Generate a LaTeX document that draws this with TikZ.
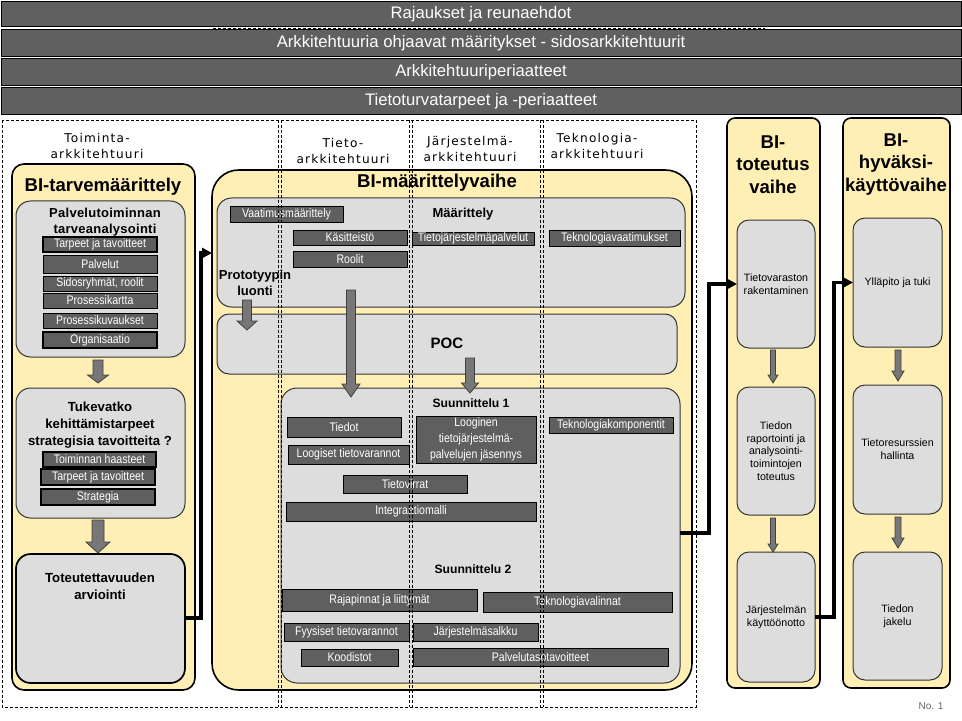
\documentclass[tikz,border=0pt]{standalone}
\usepackage{fontspec}
\setmainfont{Liberation Sans}
\newfontfamily\narrowf{Liberation Sans}[FakeStretch=0.85]
\newfontfamily\verdf{DejaVu Sans}[LetterSpace=10]
\newfontfamily\boldsp{Liberation Sans}[LetterSpace=2]
\usetikzlibrary{arrows.meta,calc}
\definecolor{bangray}{HTML}{606060}
\definecolor{dkgray}{HTML}{5F5F5F}
\definecolor{yel}{HTML}{FFEFB5}
\definecolor{ltgray}{HTML}{DDDDDD}
\definecolor{argray}{HTML}{777777}
\newcommand{\fBan}{\fontsize{12.5}{14}\selectfont}
\newcommand{\fDk}{\narrowf\fontsize{9.3}{12}\selectfont}
\newcommand{\fArch}{\verdf\fontsize{9.1}{12}\selectfont}
\newcommand{\fBig}{\bfseries\fontsize{13.9}{16.9}\selectfont}
\newcommand{\fSub}{\boldsp\bfseries\fontsize{9.75}{12.5}\selectfont}
\newcommand{\fMid}{\bfseries\fontsize{9.75}{12}\selectfont}
\newcommand{\fSm}{\fontsize{8}{9.6}\selectfont}
\newcommand{\mkbox}[7]{\node[#1, minimum width={((#5)-(#3))*0.75pt}, minimum height={((#6)-(#4))*0.75pt}] (#2) at ({((#3)+(#5))/2},{((#4)+(#6))/2}) {#7};}
\newcommand{\fatdn}[6]{\draw[fatst] ({#1-#4/2},#2) -- ({#1+#4/2},#2) -- ({#1+#4/2},{#3-#6}) -- ({#1+#5/2},{#3-#6}) -- (#1,#3) -- ({#1-#5/2},{#3-#6}) -- ({#1-#4/2},{#3-#6}) -- cycle;}
\begin{document}
\begin{tikzpicture}[x=0.75pt,y=-0.75pt,
  banner/.style={draw=black, line width=0.75pt, fill=bangray, text=white, font=\fBan, inner sep=0, outer sep=0},
  dbox/.style={draw=black, line width=0.75pt, fill=dkgray, text=white, font=\fDk, inner sep=0, outer sep=0, align=center},
  dboxb/.style={dbox, line width=1.5pt},
  ybox/.style={draw=black, line width=1.2pt, fill=yel, inner sep=0, outer sep=0, rounded corners=#1},
  gbox/.style={draw=black!80, line width=0.75pt, fill=ltgray, inner sep=0, outer sep=0, rounded corners=#1, align=center, font=\fSm},
  ttl/.style={inner sep=0, align=center},
  dsh/.style={dash pattern=on 2.25pt off 1.5pt, line width=0.7pt},
  conn/.style={line width=2.6pt, -{Triangle[length=7.5pt,width=7.5pt]}},
  fatst/.style={fill=argray, draw=black!75, line width=0.6pt}]
\useasboundingbox (0,0) rectangle (962,720);
\fill[white] (0,0) rectangle (962,720);
% fragment of dashed frame between banners
\draw[dsh, line width=1.2pt] (213,28.5) -- (765,28.5);
% banners
\mkbox{banner}{b1}{1}{2}{961}{27}{Rajaukset ja reunaehdot}
\mkbox{banner}{b2}{1}{30}{961}{57}{Arkkitehtuuria ohjaavat määritykset - sidosarkkitehtuurit}
\mkbox{banner}{b3}{1}{59}{961}{86}{Arkkitehtuuriperiaatteet}
\mkbox{banner}{b4}{1}{88}{961}{115}{Tietoturvatarpeet ja -periaatteet}
% architecture labels
\node[ttl, font=\fArch] (la1) at (97,146) {Toiminta-\\arkkitehtuuri};
\node[ttl, font=\fArch] (la2) at (343,150.5) {Tieto-\\arkkitehtuuri};
\node[ttl, font=\fArch] (la3) at (470,149) {Järjestelmä-\\arkkitehtuuri};
\node[ttl, font=\fArch] (la4) at (597,146) {Teknologia-\\arkkitehtuuri};
% yellow phase boxes
\mkbox{ybox=9pt}{tarve}{12}{164}{195}{690}{}
\mkbox{ybox=20pt}{maar}{212}{170}{692}{690}{}
\mkbox{ybox=6pt}{tot}{727}{118}{820}{688}{}
\mkbox{ybox=6pt}{hyv}{843}{118}{950}{688}{}
\node[ttl, font=\fBig] (tt1) at (103,187) {BI-tarvemäärittely};
\node[ttl, font=\fBig] (tt2) at (437,183) {BI-määrittelyvaihe};
\node[ttl, font=\fBig] (tt3) at (773,164.5) {BI-\\toteutus\\vaihe};
\node[ttl, font=\fBig] (tt4) at (896,164.5) {BI-\\hyväksi-\\käyttövaihe};
% left column
\mkbox{gbox=11pt}{g1}{16}{201}{185}{357}{}
\mkbox{gbox=11pt}{g2}{16}{388}{185}{518}{}
\mkbox{gbox=11pt, line width=1.3pt, draw=black}{g3}{16}{554}{185}{683}{}
\node[ttl, font=\fSub] (g1t) at (105,222) {Palvelutoiminnan\\tarveanalysointi};
\node[ttl, font=\bfseries\fontsize{9.9}{12.8}\selectfont] (g2t) at (100,425) {Tukevatko\\kehittämistarpeet\\strategisia tavoitteita ?};
\node[ttl, font=\bfseries\fontsize{9.9}{12.8}\selectfont] (g3t) at (100,586.5) {Toteutettavuuden\\arviointi};
\mkbox{dboxb}{d1}{43}{237}{157}{252}{Tarpeet ja tavoitteet}
\mkbox{dbox}{d2}{43}{255}{157}{273}{Palvelut}
\mkbox{dbox}{d3}{43}{276}{157}{291}{Sidosryhmät, roolit}
\mkbox{dbox}{d4}{43}{293}{157}{308}{Prosessikartta}
\mkbox{dbox}{d5}{43}{313}{157}{328}{Prosessikuvaukset}
\mkbox{dboxb}{d6}{43}{332}{157}{348}{Organisaatio}
\mkbox{dboxb}{d7}{43}{452}{156}{467}{Toiminnan haasteet}
\mkbox{dboxb}{d8}{41}{469}{155}{485}{Tarpeet ja tavoitteet}
\mkbox{dboxb}{d9}{41}{489}{155}{505}{Strategia}
\fatdn{98}{360}{383}{10}{21}{8}
\fatdn{98}{520}{553}{12}{24}{11}
% BI-maarittelyvaihe
\mkbox{gbox=11pt}{mdef}{217}{198}{685}{307}{}
\mkbox{gbox=9pt}{poc}{217}{314}{677}{374}{}
\mkbox{gbox=12pt}{suun}{281}{388}{680}{683}{}
\node[ttl, font=\fMid] (mdeft) at (463,214) {Määrittely};
\node[ttl, font=\fMid] (proto) at (255,283) {Prototyypin\\luonti};
\node[ttl, font=\bfseries\fontsize{11.3}{13}\selectfont] (poct) at (447,343) {POC};
\node[ttl, font=\bfseries\fontsize{9.1}{11}\selectfont] (s1t) at (471,403) {Suunnittelu 1};
\node[ttl, font=\bfseries\fontsize{9.1}{11}\selectfont] (s2t) at (473,569) {Suunnittelu 2};
\mkbox{dbox}{vaat}{230}{207}{343}{222}{Vaatimusmäärittely}
\mkbox{dbox}{kas}{293}{230}{407}{245}{Käsitteistö}
\mkbox{dbox}{rool}{293}{251}{407}{267}{Roolit}
\mkbox{dbox}{tjp}{412}{232}{534}{245}{Tietojärjestelmäpalvelut}
\mkbox{dbox}{tekv}{549}{230}{680}{246}{Teknologiavaatimukset}
\mkbox{dbox}{tied}{287}{417}{401}{437}{Tiedot}
\mkbox{dbox}{loog}{416}{416}{536}{463}{Looginen\\tietojärjestelmä-\\palvelujen jäsennys}
\mkbox{dbox}{tekk}{549}{417}{673}{433}{Teknologiakomponentit}
\mkbox{dbox}{lotv}{288}{445}{409}{464}{Loogiset tietovarannot}
\mkbox{dbox}{tvir}{343}{475}{467}{493}{Tietovirrat}
\mkbox{dbox}{integ}{286}{502}{536}{521}{Integraatiomalli}
\mkbox{dbox}{raja}{282}{589}{477}{611}{Rajapinnat ja liittymät}
\mkbox{dbox}{tekval}{483}{592}{672}{612}{Teknologiavalinnat}
\mkbox{dbox}{fyys}{284}{623}{409}{641}{Fyysiset tietovarannot}
\mkbox{dbox}{jsalk}{413}{623}{538}{641}{Järjestelmäsalkku}
\mkbox{dbox}{kood}{301}{649}{398}{666}{Koodistot}
\mkbox{dbox}{palv}{413}{648}{668}{666}{Palvelutasotavoitteet}
\fatdn{247}{300}{330}{9}{20}{9}
\fatdn{351}{290}{397}{9}{18}{13}
\fatdn{470}{358}{393}{9}{17}{10}
% BI-toteutus
\mkbox{gbox=9pt}{tv1}{737}{220}{815}{348}{Tietovaraston\\rakentaminen}
\mkbox{gbox=9pt}{tv2}{737}{387}{815}{515}{Tiedon\\raportointi ja\\analysointi-\\toimintojen\\toteutus}
\mkbox{gbox=9pt}{tv3}{737}{552}{815}{682}{Järjestelmän\\käyttöönotto}
\fatdn{773}{350}{383}{5}{10}{8}
\fatdn{773}{518}{552}{5}{10}{8}
% BI-hyvaksikaytto
\mkbox{gbox=9pt}{h1}{853}{218}{942}{347}{Ylläpito ja tuki}
\mkbox{gbox=9pt}{h2}{853}{385}{942}{514}{Tietoresurssien\\hallinta}
\mkbox{gbox=9pt}{h3}{853}{552}{942}{680}{Tiedon\\jakelu}
\fatdn{898}{350}{381}{6}{12}{10}
\fatdn{898}{517}{548}{6}{12}{10}
% connectors
\draw[conn] (g3.east |- 0,618) -- (201,618) |- (maar.west |- 0,253);
\draw[conn] (suun.east |- 0,533) -- (709,533) |- (tv1.west);
\draw[conn] (tv3.east |- 0,617) -- (834,617) |- (h1.west);
% dashed architecture frames
\draw[dsh] (2,120) rectangle (696,707);
\foreach \xx in {278,281,409,412,540,543} {\draw[dsh] (\xx,120) -- (\xx,707);}
\node[font=\fontsize{7.5}{9}\selectfont, text=black!60, inner sep=0] (pg) at (931,706) {No. 1};
\end{tikzpicture}
\end{document}
